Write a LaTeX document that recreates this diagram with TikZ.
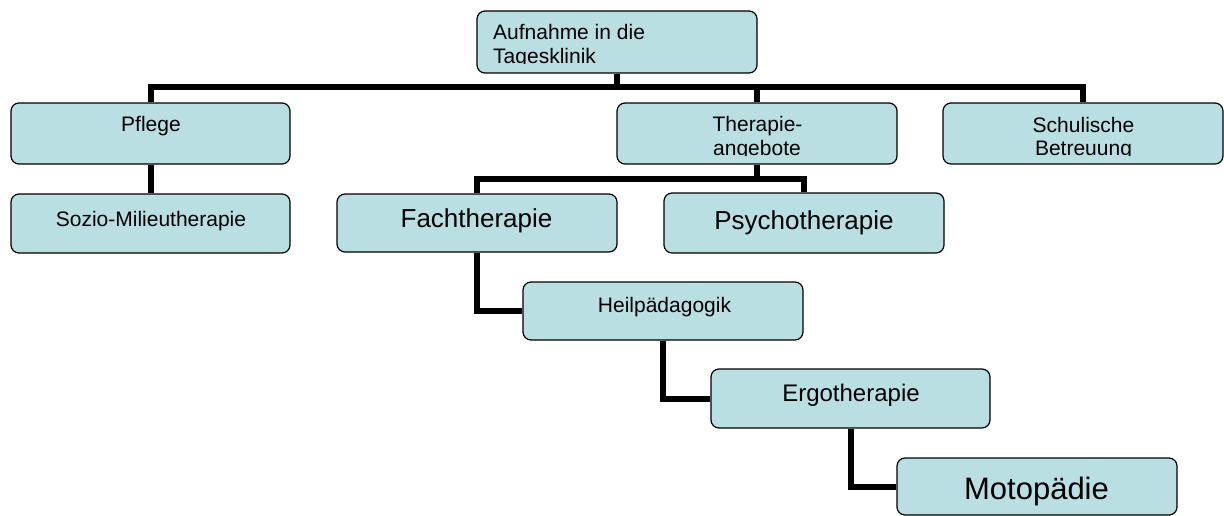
\documentclass[tikz,border=0pt]{standalone}
\usepackage{fontspec}
\setmainfont{Liberation Sans}
\usetikzlibrary{backgrounds}
\definecolor{boxfill}{RGB}{185,223,227}
\begin{document}
\begin{tikzpicture}[x=1pt,y=-1pt,
  box/.style={draw=black, line width=1.2pt, fill=boxfill, rounded corners=8pt, inner sep=0pt},
  conn/.style={draw=black, line width=6pt},
  txt/.style={inner sep=0pt, anchor=base, font=\fontsize{21}{23}\selectfont},
  txtl/.style={txt, anchor=base west},
  big/.style={txt, font=\fontsize{26}{30}\selectfont},
  mid/.style={txt, font=\fontsize{24}{28}\selectfont},
  huge/.style={txt, font=\fontsize{31}{36}\selectfont}]
\useasboundingbox (0,0) rectangle (1224,516);
% boxes
\node[box, minimum width=280pt, minimum height=62pt] (top) at (617,42) {};
\node[box, minimum width=279pt, minimum height=61pt] (pflege) at (150.5,133.5) {};
\node[box, minimum width=280pt, minimum height=61pt] (therapie) at (757,133.5) {};
\node[box, minimum width=280pt, minimum height=61pt] (schul) at (1083,133.5) {};
\node[box, minimum width=279pt, minimum height=59pt] (sozio) at (150.5,223.5) {};
\node[box, minimum width=280pt, minimum height=58pt] (fach) at (477,223) {};
\node[box, minimum width=280pt, minimum height=60pt] (psycho) at (804,223) {};
\node[box, minimum width=280pt, minimum height=58pt] (heil) at (663,311) {};
\node[box, minimum width=279pt, minimum height=59pt] (ergo) at (850.5,398.5) {};
\node[box, minimum width=280pt, minimum height=57pt] (moto) at (1037,486.5) {};
\coordinate (bar1) at (617,87.5);
\coordinate (bar2) at (757,179.5);
% connectors
\begin{pgfonlayer}{background}
\draw[conn] (top.south) -- (bar1);
\draw[conn] (pflege.north) |- (bar1) -| (schul.north);
\draw[conn] (therapie.north) -- (therapie.north |- bar1);
\draw[conn] (pflege.south) -- (sozio.north);
\draw[conn] (therapie.south) -- (bar2);
\draw[conn] (fach.north) |- (bar2) -| (psycho.north);
\draw[conn] (fach.south) |- (heil.west);
\draw[conn] (heil.south) |- (ergo.west);
\draw[conn] (ergo.south) |- (moto.west);
\end{pgfonlayer}
% texts (clipped where the reference cuts them)
\begin{scope}
\clip (477,11) rectangle (757,64);
\node[txtl] (t1a) at (493,40) {Aufnahme in die};
\node[txtl] (t1b) at (493,63.5) {Tagesklinik};
\end{scope}
\begin{scope}
\clip (617,103) rectangle (897,156);
\node[txt] (t2a) at (757.5,132) {Therapie-};
\node[txt] (t2b) at (757,155.5) {angebote};
\end{scope}
\begin{scope}
\clip (943,103) rectangle (1223,156);
\node[txt] (t3a) at (1083.5,132.5) {Schulische};
\node[txt] (t3b) at (1083.5,155.5) {Betreuung};
\end{scope}
\node[txt] (t4) at (151,132) {Pflege};
\node[txt] (t5) at (151,226) {Sozio-Milieutherapie};
\node[big] (t6) at (476.5,227) {Fachtherapie};
\node[big] (t7) at (804,229) {Psychotherapie};
\node[txt] (t8) at (664.5,312) {Heilpädagogik};
\node[mid] (t9) at (851,401) {Ergotherapie};
\node[huge] (t10) at (1036.5,499) {Motopädie};
\end{tikzpicture}
\end{document}
